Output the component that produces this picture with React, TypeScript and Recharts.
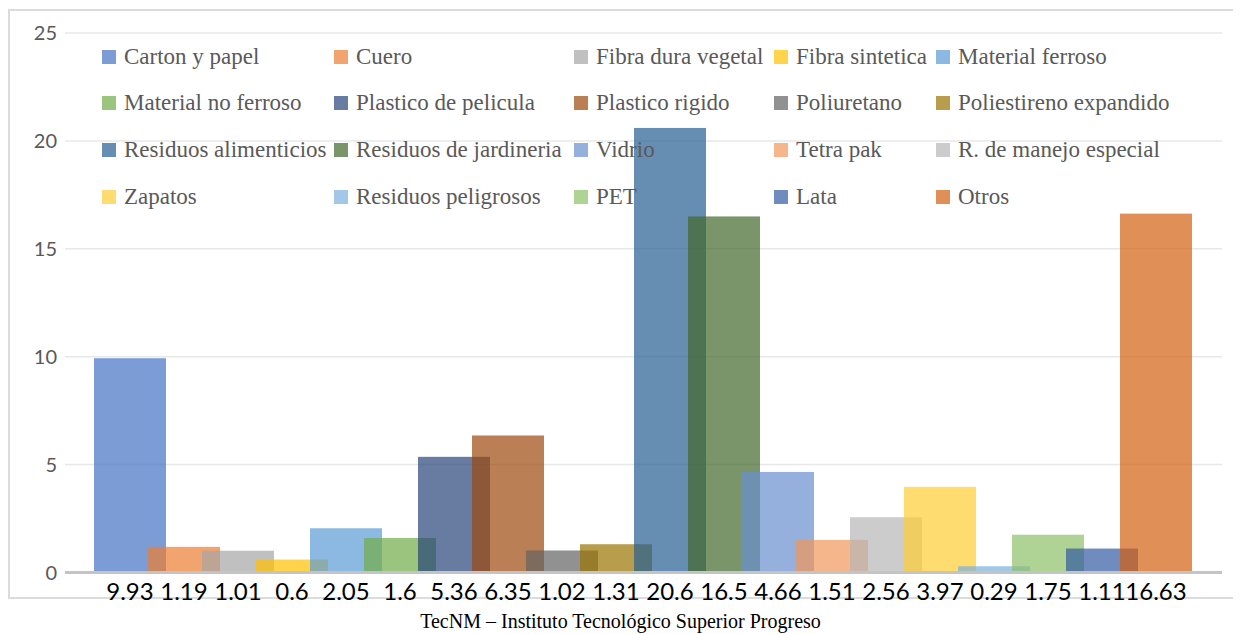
import { BarChart, Bar, XAxis, YAxis, CartesianGrid, Cell } from 'recharts';

const materials = [
  'Carton y papel', 'Cuero', 'Fibra dura vegetal', 'Fibra sintetica', 'Material ferroso',
  'Material no ferroso', 'Plastico de pelicula', 'Plastico rigido', 'Poliuretano', 'Poliestireno expandido',
  'Residuos alimenticios', 'Residuos de jardineria', 'Vidrio', 'Tetra pak', 'R. de manejo especial',
  'Zapatos', 'Residuos peligrosos', 'PET', 'Lata', 'Otros',
];

const percentages = [
  9.93, 1.19, 1.01, 0.6, 2.05,
  1.6, 5.36, 6.35, 1.02, 1.31,
  20.6, 16.5, 4.66, 1.51, 2.56,
  3.97, 0.29, 1.75, 1.11, 16.63,
];

const colors = [
  '#4472C4', '#ED7D31', '#A5A5A5', '#FFC000', '#5B9BD5',
  '#70AD47', '#264478', '#9E480E', '#636363', '#997300',
  '#255E91', '#43682B', '#698ED0', '#F1975A', '#B7B7B7',
  '#FFCD33', '#7CAFDD', '#8CC168', '#335AA1', '#D35F10',
];

const yTicks = [0, 5, 10, 15, 20, 25];

const rows = materials.map((name, i) => ({ name, value: percentages[i] }));

const OPACITY = 0.7;
const legendCols = [94, 326, 566, 766, 928];

// Excel draws these columns wider than the category slot, so neighbours overlap
function WideBar(props: any) {
  const { x, y, width, height, fill } = props;
  const w = 72;
  const cx = x + width / 2;
  return <rect x={cx - w / 2} y={y} width={w} height={height} fill={fill} fillOpacity={OPACITY} />;
}

function LegendGrid() {
  return (
    <div style={{ position: 'absolute', left: 0, top: 0 }}>
      {materials.map((name, i) => {
        const col = i % 5;
        const row = Math.floor(i / 5);
        return (
          <div
            key={name}
            style={{
              position: 'absolute',
              left: legendCols[col],
              top: 48.5 + row * 46.7 - 16,
              height: 32,
              display: 'flex',
              alignItems: 'center',
              whiteSpace: 'nowrap',
              fontFamily: '"Liberation Serif", "DejaVu Serif", serif',
              fontSize: 23,
              color: '#595959',
            }}
          >
            <span
              style={{
                display: 'inline-block',
                width: 14,
                height: 14,
                background: colors[i],
                opacity: OPACITY,
                marginRight: 8,
              }}
            />
            {name}
          </div>
        );
      })}
    </div>
  );
}

export default function App() {
  return (
    <div style={{ position: 'relative', width: 1233, height: 626 }}>
      <div
        style={{
          position: 'absolute',
          left: 0,
          top: 1,
          width: 1231,
          height: 586,
          borderTop: '2px solid #dcdcdc',
          borderLeft: '2px solid #dcdcdc',
          borderBottom: '2px solid #dcdcdc',
        }}
      />
      <div style={{ position: 'absolute', left: 0, top: 0 }}>
        <BarChart
          width={1233}
          height={600}
          data={rows}
          margin={{ top: 25, right: 19, bottom: 0, left: 0 }}
          barCategoryGap={0}
        >
          <CartesianGrid vertical={false} stroke="#e8e8e8" strokeWidth={1.5} />
          <YAxis
            domain={[0, 25]}
            ticks={yTicks}
            width={57}
            tickLine={false}
            axisLine={false}
            tickSize={0}
            tickMargin={8}
            tick={{ fill: '#595959', fontSize: 20, fontFamily: 'Lato, sans-serif' }}
          />
          <XAxis
            dataKey="name"
            height={35.5}
            interval={0}
            padding={{ left: 38, right: 39 }}
            tickLine={false}
            tickSize={0}
            tickMargin={10}
            axisLine={{ stroke: '#c4c4c4', strokeWidth: 3 }}
            tickFormatter={(_v: string, i: number) => String(percentages[i])}
            tick={{ fill: '#000000', fontSize: 24, fontFamily: 'Lato, sans-serif' }}
          />
          <Bar dataKey="value" isAnimationActive={false} shape={<WideBar />}>
            {rows.map((r, i) => (
              <Cell key={r.name} fill={colors[i]} />
            ))}
          </Bar>
        </BarChart>
      </div>
      <LegendGrid />
      <div
        style={{
          position: 'absolute',
          left: 0,
          width: 1225,
          top: 603,
          height: 20,
          lineHeight: '20px',
          textAlign: 'center',
          fontFamily: '"Liberation Serif", serif',
          fontSize: 20,
          color: '#000000',
        }}
      >
        TecNM – Instituto Tecnológico Superior Progreso
      </div>
    </div>
  );
}
